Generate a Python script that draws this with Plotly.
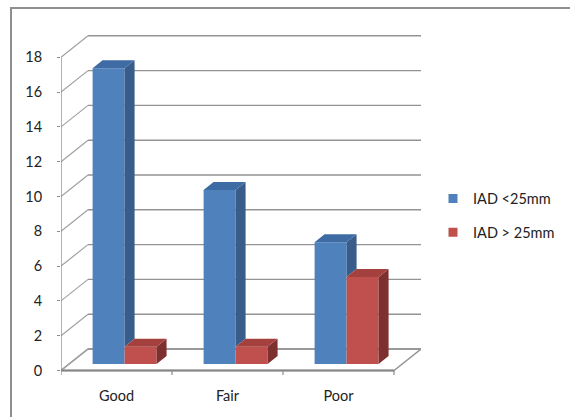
import plotly.graph_objects as go

# ---- data ----
categories = ["Good", "Fair", "Poor"]
iad_small = [17, 10, 7]      # IAD <25mm
iad_large = [1, 1, 5]        # IAD > 25mm
series_names = ["IAD <25mm", "IAD > 25mm"]
y_ticks = [0, 2, 4, 6, 8, 10, 12, 14, 16, 18]

# ---- styling / geometry ----
W, H = 570, 417
L, R, T, B = 61, 149, 30, 42
plot_w = W - L - R
plot_h = H - T - B
PX_PER_CAT = 111.0
PX_PER_UNIT = 17.4
ZERO_PX = 370.5                      # pixel row of value 0 on the front plane

x_min = -0.5
x_max = x_min + plot_w / PX_PER_CAT
y_min = -((H - B) - ZERO_PX) / PX_PER_UNIT
y_max = y_min + plot_h / PX_PER_UNIT

# oblique depth of the floor / walls, in axis units
DEPTH_X = 27.0 / PX_PER_CAT
DEPTH_Y = 21.5 / PX_PER_UNIT
# bars sit between these fractions of the depth
BAR_F0, BAR_F1 = 0.30, 0.67
BAR_W = 32.0 / PX_PER_CAT

front_cols = ["#4F81BD", "#C0504D"]
side_cols = ["#385D8A", "#7E302E"]
top_cols = ["#3E6BA3", "#A4403D"]
grid_col = "#939393"
text_col = "#222222"
font_family = "Lato, 'Open Sans', sans-serif"
font_size = 14.5

series = [iad_small, iad_large]
n_cat = len(categories)
cat_x = list(range(n_cat))
ymax_tick = max(y_ticks)

shapes = []


def poly(pts, fill, line_col=None, width=0, layer="above"):
    d = "M " + " L ".join(f"{x:.5f},{y:.5f}" for x, y in pts) + " Z"
    shapes.append(dict(type="path", path=d, xref="x", yref="y",
                       fillcolor=fill, layer=layer,
                       line=dict(color=line_col or fill, width=width)))


def seg(x0, y0, x1, y1, col=grid_col, width=1.4, layer="below"):
    shapes.append(dict(type="line", xref="x", yref="y", x0=x0, y0=y0,
                       x1=x1, y1=y1, layer=layer,
                       line=dict(color=col, width=width)))


# floor
x_end = x_min + n_cat
poly([(x_min, 0), (x_end, 0), (x_end + DEPTH_X, DEPTH_Y), (x_min + DEPTH_X, DEPTH_Y)],
     "white", grid_col, 1.4, layer="below")

# side wall diagonals and back wall gridlines
for v in y_ticks:
    seg(x_min, v, x_min + DEPTH_X, v + DEPTH_Y, col="#A0A0A0", width=1.2)
    seg(x_min + DEPTH_X, v + DEPTH_Y, x_end + DEPTH_X, v + DEPTH_Y)

# front value axis and front category axis with boundary ticks
seg(x_min, 0, x_min, ymax_tick, col="#8C8C8C", width=1.3)
seg(x_min, 0, x_end, 0, col="#858585", width=1.8)
for i in range(n_cat + 1):
    seg(x_min + i, 0, x_min + i, -4.5 / PX_PER_UNIT, col="#8C8C8C", width=1.2)

# bar geometry on the front plane of the bars
fx = BAR_F0 * DEPTH_X
fy = BAR_F0 * DEPTH_Y
dx = (BAR_F1 - BAR_F0) * DEPTH_X
dy = (BAR_F1 - BAR_F0) * DEPTH_Y

fig = go.Figure()

for s, vals in enumerate(series):
    offset = fx - BAR_W + s * BAR_W
    fig.add_trace(go.Bar(
        x=cat_x, y=vals, base=[fy] * n_cat, width=BAR_W, offset=offset,
        marker=dict(color=front_cols[s], line=dict(width=0)),
        showlegend=False, hoverinfo="skip"))

# side and top faces of each bar
for c in cat_x:
    for s, vals in enumerate(series):
        v = vals[c]
        x0 = c + fx - BAR_W + s * BAR_W
        x1 = x0 + BAR_W
        top = fy + v
        # part of the right face hidden behind the next series' front
        lo = fy
        if s + 1 < len(series):
            lo = fy + min(series[s + 1][c], v)
        if top > lo:
            poly([(x1, lo), (x1 + dx, lo + dy), (x1 + dx, top + dy), (x1, top)],
                 side_cols[s])
        poly([(x0, top), (x1, top), (x1 + dx, top + dy), (x0 + dx, top + dy)],
             top_cols[s])

# legend entries
for s, name in enumerate(series_names):
    fig.add_trace(go.Scatter(
        x=[None], y=[None], mode="markers", name=name,
        legendgroup=f"g{s}",
        marker=dict(symbol="square", size=9, color=front_cols[s])))


def px_to_paper_x(px):
    return (px - L) / plot_w


def px_to_paper_y(py):
    return ((H - B) - py) / plot_h


# chart border
shapes.append(dict(type="rect", xref="paper", yref="paper",
                   x0=px_to_paper_x(11), x1=px_to_paper_x(600),
                   y0=px_to_paper_y(440), y1=px_to_paper_y(8),
                   line=dict(color="#8F8F8F", width=2), layer="below"))

fig.update_layout(
    width=W, height=H,
    margin=dict(l=L, r=R, t=T, b=B, autoexpand=False),
    paper_bgcolor="white", plot_bgcolor="white",
    barmode="overlay",
    shapes=shapes,
    font=dict(family=font_family, size=font_size, color=text_col),
    showlegend=True,
    legend=dict(x=px_to_paper_x(433), xanchor="left",
                y=px_to_paper_y(215.5), yanchor="middle",
                tracegroupgap=12, bgcolor="rgba(0,0,0,0)",
                font=dict(family=font_family, size=font_size, color=text_col),
                itemwidth=30),
    xaxis=dict(range=[x_min, x_max], tickvals=cat_x, ticktext=categories,
               showgrid=False, zeroline=False, showline=False, ticks="",
               ticklabelstandoff=10, fixedrange=True),
    yaxis=dict(range=[y_min, y_max], tickvals=y_ticks,
               ticktext=[str(v) for v in y_ticks],
               showgrid=False, zeroline=False, showline=False,
               ticks="outside", ticklen=3, tickcolor="#8C8C8C",
               ticklabelstandoff=12, fixedrange=True),
)

fig.write_html("out.html")
